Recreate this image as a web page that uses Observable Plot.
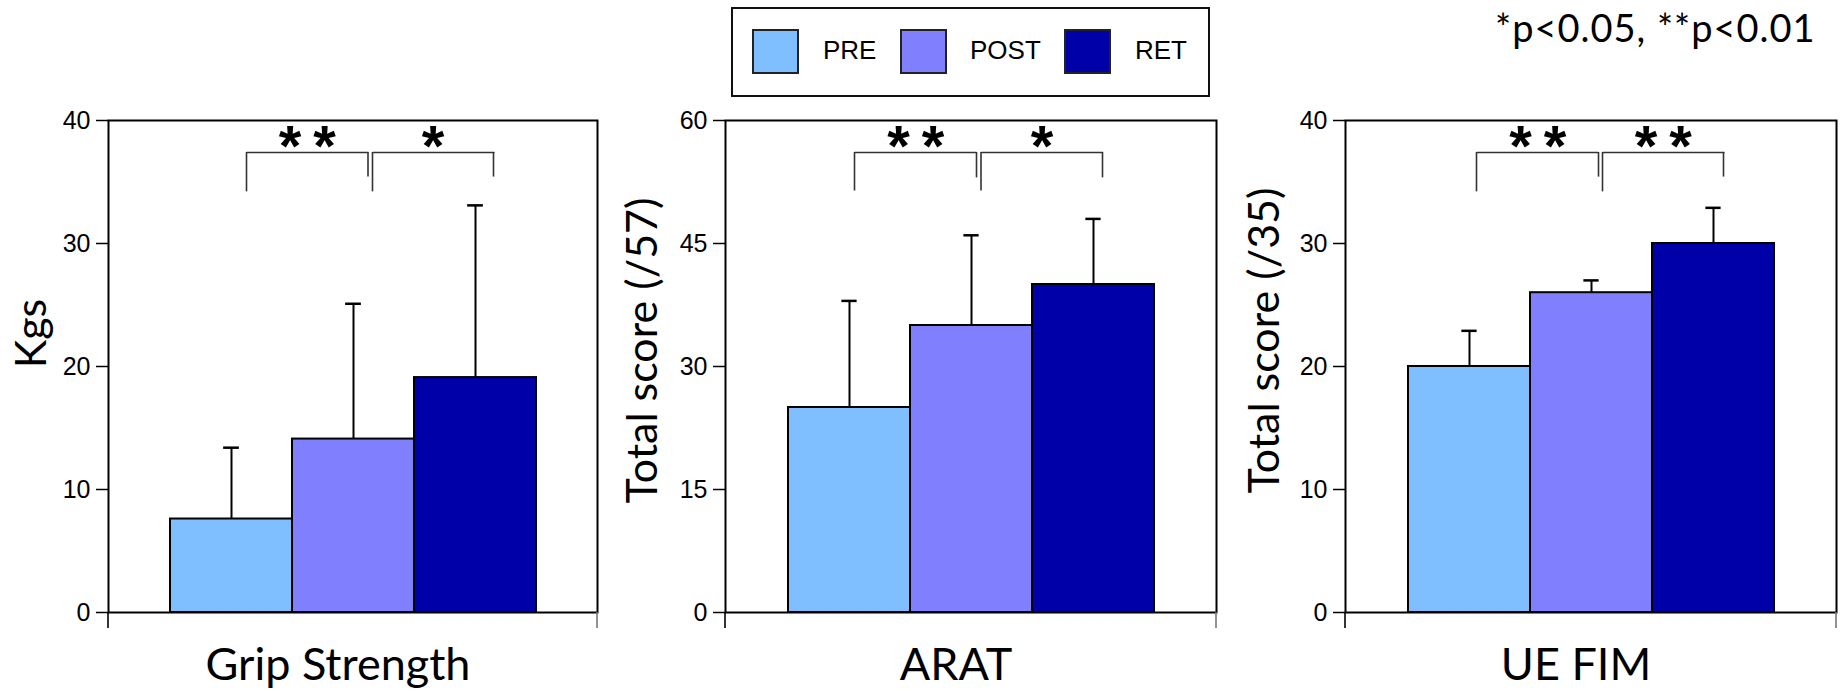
<!DOCTYPE html>
<html><head><meta charset="utf-8">
<script src="https://cdn.jsdelivr.net/npm/d3@7"></script>
<script src="https://cdn.jsdelivr.net/npm/@observablehq/plot@0.6"></script>
<style>
body{margin:0;background:#fff;}
#root{position:relative;width:1845px;height:691px;overflow:hidden;font-family:"Liberation Sans",Arial,sans-serif;}
.panel{position:absolute;top:0;}
#legend{position:absolute;left:731px;top:7px;width:475px;height:86px;border:2px solid #111;}
#legend .sw{position:absolute;top:20px;width:43px;height:41px;border:2px solid #222;}
#legend .lb{position:absolute;top:26px;font-size:26px;line-height:30px;color:#000;}
#ptext{position:absolute;left:1480px;top:0;}
</style></head>
<body><div id="root"></div>
<script>
// ---- data ----
const groups = ["PRE", "POST", "RET"];
const colors = ["#80bfff", "#8080ff", "#0000a8"];
const panelTitles = ["Grip Strength", "ARAT", "UE FIM"];
const yLabels = ["Kgs", "Total score (/57)", "Total score (/35)"];
const gripMean = [7.6, 14.1, 19.1];
const gripSD = [5.8, 11, 14];
const aratMean = [25, 35, 40];
const aratSD = [13, 11, 8];
const fimMean = [20, 26, 30];
const fimSD = [2.9, 1, 2.9];
const yDomains = [[0, 40], [0, 60], [0, 40]];
const yTicks = [[0, 10, 20, 30, 40], [0, 15, 30, 45, 60], [0, 10, 20, 30, 40]];
const sigLabels = [["**", "*"], ["**", "*"], ["**", "**"]];
// bracket levels (top, left-leg end, right-leg end) in data units
const bracketLevels = [[37.4, 34.2, 35.4], [56.1, 51.4, 53.0], [37.4, 34.2, 35.4]];
const pValueNote = "*p<0.05, **p<0.01";

// ---- layout (styling only) ----
const layout = [
  {left: 0,    width: 615, ml: 108, mr: 18, legDx: [[15, 14.5], [19, 18]], titleDx: -76, titleDy: -33},
  {left: 615,  width: 615, ml: 110, mr: 14, legDx: [[5, 5], [9.5, 9]],    titleDx: -82, titleDy: -16},
  {left: 1230, width: 615, ml: 115, mr: 9,  legDx: [[7, 7], [11, 10]],    titleDx: -80, titleDy: -26}
];
const H = 691, MT = 120, MB = 79;

const root = document.getElementById("root");
const series = [[gripMean, gripSD], [aratMean, aratSD], [fimMean, fimSD]];

series.forEach(([means, sds], i) => {
  const L = layout[i];
  const data = groups.map((g, j) => ({group: g, mean: means[j], hi: means[j] + sds[j]}));
  const bw = (L.width - L.ml - L.mr) / 4;
  const [top, legL, legR] = bracketLevels[i];
  const pairs = [
    {from: "PRE", to: "POST", sig: sigLabels[i][0]},
    {from: "POST", to: "RET", sig: sigLabels[i][1]}
  ];
  const bracketMarks = pairs.flatMap((p, k) => {
    const [dL, dR] = L.legDx[k];
    return [
      Plot.ruleX([p], {x: "from", y1: legL, y2: top, dx: dL, stroke: "#333", strokeWidth: 1.6}),
      Plot.ruleX([p], {x: "to", y1: legR, y2: top, dx: dR, stroke: "#333", strokeWidth: 1.6}),
      Plot.link([p], {x1: "from", x2: "to", y1: () => top, y2: () => top, dx: dL, stroke: "#333", strokeWidth: 1.6}),
      Plot.text([p], {x: "from", y: () => top, text: "sig", dx: bw / 2 + (dL + dR) / 2 + 6, dy: -5,
        fontSize: 58, fontWeight: "bold", fontFamily: "Liberation Sans, Arial, sans-serif", fill: "#000"})
    ];
  });
  const endTicks = (index, scales, values, dims) => {
    const {width, height, marginLeft, marginRight, marginBottom} = dims;
    const g = d3.create("svg:g").attr("stroke", "#000").attr("stroke-width", 1.6);
    const yb = height - marginBottom;
    g.append("line").attr("x1", marginLeft).attr("x2", marginLeft).attr("y1", yb).attr("y2", yb + 16);
    g.append("line").attr("x1", width - marginRight).attr("x2", width - marginRight).attr("y1", yb).attr("y2", yb + 16).attr("stroke", "#777");
    return g.node();
  };
  const chart = Plot.plot({
    width: L.width,
    height: H,
    marginLeft: L.ml,
    marginRight: L.mr,
    marginTop: MT,
    marginBottom: MB,
    style: {background: "transparent", overflow: "visible"},
    x: {type: "band", domain: groups, paddingInner: 0, paddingOuter: 0.5, axis: null},
    y: {domain: yDomains[i], ticks: yTicks[i]},
    color: {domain: groups, range: colors},
    marks: [
      Plot.barY(data, {x: "group", y: "mean", fill: "group", stroke: "#000", strokeWidth: 2}),
      Plot.ruleX(data, {x: "group", y1: "mean", y2: "hi", stroke: "#000", strokeWidth: 2}),
      Plot.tickY(data, {x: "group", y: "hi", stroke: "#000", strokeWidth: 2.5, insetLeft: bw / 2 - 8, insetRight: bw / 2 - 8}),
      ...bracketMarks,
      Plot.frame({stroke: "#000", strokeWidth: 2}),
      Plot.axisY({ticks: yTicks[i], tickSize: 12, tickPadding: 6, fontSize: 25, label: null,
        fontFamily: "Liberation Sans, Arial, sans-serif", strokeWidth: 1.5}),
      endTicks,
      Plot.text([yLabels[i]], {frameAnchor: "left", text: d => d, rotate: -90, textAnchor: "middle", lineAnchor: "middle",
        dx: L.titleDx, dy: L.titleDy, fontSize: 43, fontFamily: "Lato, sans-serif", fill: "#000"}),
      Plot.text([panelTitles[i]], {frameAnchor: "bottom", text: d => d, textAnchor: "middle", dx: -15, dy: 53, lineAnchor: "middle",
        fontSize: 45, fontFamily: "Lato, sans-serif", fill: "#000"})
    ]
  });
  chart.classList.add("panel");
  chart.style.left = L.left + "px";
  d3.select(chart).selectAll("text").filter(function () { return /^\*+$/.test(this.textContent); })
    .style("letter-spacing", "12px");
  root.appendChild(chart);
});

// legend
const legend = document.createElement("div");
legend.id = "legend";
const swLeft = [19, 167, 331], lbLeft = [90, 237, 402];
groups.forEach((g, j) => {
  const sw = document.createElement("div");
  sw.className = "sw"; sw.style.left = swLeft[j] + "px"; sw.style.background = colors[j];
  const lb = document.createElement("div");
  lb.className = "lb"; lb.style.left = lbLeft[j] + "px"; lb.textContent = g;
  legend.appendChild(sw); legend.appendChild(lb);
});
root.appendChild(legend);

// p-value note
const note = d3.create("svg").attr("id", "ptext").attr("width", 365).attr("height", 60);
note.append("text").attr("x", 15).attr("y", 42).attr("font-family", "Lato, sans-serif")
  .attr("font-size", 38).attr("letter-spacing", 1).attr("fill", "#000").text(pValueNote);
root.appendChild(note.node());
</script>
</body></html>
